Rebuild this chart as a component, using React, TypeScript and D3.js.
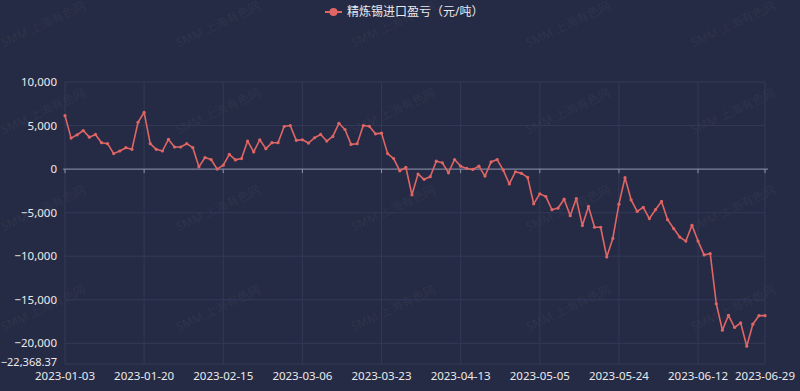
import React from 'react';
import { scaleLinear, scalePoint, line, format } from 'd3';

const WIDTH = 800;
const HEIGHT = 391;
const PLOT = { left: 65, right: 765, top: 82, bottom: 364 };

const COLORS = {
  bg: '#262b45',
  grid: '#323957',
  axis: '#8d93ad',
  text: '#eaeaea',
  line: '#e06666',
  watermark: 'rgba(255,255,255,0.06)',
};

const SERIES_NAME = '精炼锡进口盈亏（元/吨）';

// trading days shown on the category axis
const DATES = [
  '2023-01-03', '2023-01-04', '2023-01-05', '2023-01-06', '2023-01-09', '2023-01-10', '2023-01-11',
  '2023-01-12', '2023-01-13', '2023-01-16', '2023-01-17', '2023-01-18', '2023-01-19', '2023-01-20',
  '2023-01-30', '2023-01-31',
  '2023-02-01', '2023-02-02', '2023-02-03', '2023-02-06', '2023-02-07', '2023-02-08', '2023-02-09',
  '2023-02-10', '2023-02-13', '2023-02-14', '2023-02-15', '2023-02-16', '2023-02-17', '2023-02-20',
  '2023-02-21', '2023-02-22', '2023-02-23', '2023-02-24', '2023-02-27', '2023-02-28',
  '2023-03-01', '2023-03-02', '2023-03-03', '2023-03-06', '2023-03-07', '2023-03-08', '2023-03-09',
  '2023-03-10', '2023-03-13', '2023-03-14', '2023-03-15', '2023-03-16', '2023-03-17', '2023-03-20',
  '2023-03-21', '2023-03-22', '2023-03-23', '2023-03-24', '2023-03-27', '2023-03-28', '2023-03-29',
  '2023-03-30', '2023-03-31',
  '2023-04-03', '2023-04-04', '2023-04-07', '2023-04-10', '2023-04-11', '2023-04-12', '2023-04-13',
  '2023-04-14', '2023-04-17', '2023-04-18', '2023-04-19', '2023-04-20', '2023-04-21', '2023-04-24',
  '2023-04-25', '2023-04-26', '2023-04-27', '2023-04-28',
  '2023-05-04', '2023-05-05', '2023-05-08', '2023-05-09', '2023-05-10', '2023-05-11', '2023-05-12',
  '2023-05-15', '2023-05-16', '2023-05-17', '2023-05-18', '2023-05-19', '2023-05-22', '2023-05-23',
  '2023-05-24', '2023-05-25', '2023-05-26', '2023-05-29', '2023-05-30', '2023-05-31',
  '2023-06-01', '2023-06-02', '2023-06-05', '2023-06-06', '2023-06-07', '2023-06-08', '2023-06-09',
  '2023-06-12', '2023-06-13', '2023-06-14', '2023-06-15', '2023-06-16', '2023-06-19', '2023-06-20',
  '2023-06-21', '2023-06-26', '2023-06-27', '2023-06-28', '2023-06-29',
];

// import profit/loss, yuan per tonne
const PROFIT = [
  6140, 3560, 3940, 4430, 3670, 3980, 3030, 2920, 1780, 2080, 2460, 2270, 5380, 6520,
  2920, 2270, 2080, 3410, 2540, 2540, 2920, 2460, 260, 1330, 1100, 0, 450, 1700,
  1060, 1210, 3220, 1970, 3370, 2350, 3030, 3030, 4890, 5000, 3300, 3370, 2990, 3600,
  3980, 3220, 3750, 5260, 4550, 2840, 2920, 5000, 4920, 4050, 4130, 1780, 1210, -190,
  190, -2950, -570, -1170, -870, 910, 720, -420, 1100, 340, 80, -40, 340, -800,
  830, 1100, -110, -1700, -300, -490, -950, -3980, -2840, -3150, -4660, -4470, -3450, -5340,
  -3370, -6480, -4280, -6670, -6670, -10080, -7950, -4020, -980, -3520, -4850, -4390, -5680, -4660,
  -3710, -5800, -6820, -7800, -8260, -6440, -8260, -9850, -9700, -15450, -18490, -16780, -18180, -17650,
  -20330, -17800, -16820, -16820,
];

const X_LABELS = [
  '2023-01-03', '2023-01-20', '2023-02-15', '2023-03-06', '2023-03-23',
  '2023-04-13', '2023-05-05', '2023-05-24', '2023-06-12', '2023-06-29',
];
const Y_TICKS = [10000, 5000, 0, -5000, -10000, -15000, -20000];
const Y_MIN = -22368.37;
const Y_MAX = 10000;

const WATERMARK = 'SMM 上海有色网';
const WM_X = [45, 220, 395, 570, 735];
const WM_Y = [28, 115, 212, 312];

const FONT = '"Noto Sans", "Noto Sans CJK SC", sans-serif';
const TICK_FS = 11.5;

export default function App() {
  const x = scalePoint<string>().domain(DATES).range([PLOT.left, PLOT.right]);
  const y = scaleLinear().domain([Y_MIN, Y_MAX]).range([PLOT.bottom, PLOT.top]);
  const fmt = format(',');

  const pts = DATES.map((d, i) => ({ d, v: PROFIT[i] }));
  const path = line<{ d: string; v: number }>()
    .x((p) => x(p.d) as number)
    .y((p) => y(p.v))(pts);

  const y0 = y(0);

  return (
    <div style={{ position: 'absolute', left: 0, top: 0, width: WIDTH, height: HEIGHT }}>
      <svg width={WIDTH} height={HEIGHT} style={{ display: 'block', fontFamily: FONT }}>
        <rect width={WIDTH} height={HEIGHT} fill={COLORS.bg} />

        {/* watermarks */}
        {WM_Y.map((wy, r) =>
          WM_X.map((wx, c) => (
            <text
              key={`wm-${r}-${c}`}
              x={wx}
              y={wy}
              transform={`rotate(-25 ${wx} ${wy})`}
              textAnchor="middle"
              fontSize={12}
              fill={COLORS.watermark}
            >
              {WATERMARK}
            </text>
          ))
        )}

        {/* horizontal grid */}
        {[...Y_TICKS, Y_MIN].map((t) => (
          <line key={`hg-${t}`} x1={PLOT.left} x2={PLOT.right} y1={y(t)} y2={y(t)} stroke={COLORS.grid} strokeWidth={1} />
        ))}
        {/* vertical grid */}
        {X_LABELS.map((d) => (
          <line key={`vg-${d}`} x1={x(d)} x2={x(d)} y1={PLOT.top} y2={PLOT.bottom} stroke={COLORS.grid} strokeWidth={1} />
        ))}

        {/* x axis on zero */}
        <line x1={PLOT.left - 2} x2={PLOT.right + 3} y1={y0} y2={y0} stroke={COLORS.axis} strokeWidth={1} />
        {X_LABELS.map((d) => (
          <line key={`xt-${d}`} x1={x(d)} x2={x(d)} y1={y0} y2={y0 + 4} stroke={COLORS.axis} strokeWidth={1} />
        ))}

        {/* y labels */}
        {Y_TICKS.map((t) => (
          <text key={`yl-${t}`} x={57} y={y(t)} dy="0.35em" textAnchor="end" fontSize={TICK_FS} fill={COLORS.text}>
            {fmt(t)}
          </text>
        ))}
        <text x={57} y={y(Y_MIN) - 2} dy="0.35em" textAnchor="end" fontSize={11} fill={COLORS.text}>
          {format(',.2f')(Y_MIN)}
        </text>

        {/* x labels */}
        {X_LABELS.map((d) => (
          <text key={`xl-${d}`} x={x(d)} y={376} dy="0.35em" textAnchor="middle" fontSize={TICK_FS} fill={COLORS.text}>
            {d}
          </text>
        ))}

        {/* series */}
        <path d={path ?? ''} fill="none" stroke={COLORS.line} strokeWidth={1.6} strokeLinejoin="round" />
        {pts.map((p) => (
          <circle key={`pt-${p.d}`} cx={x(p.d)} cy={y(p.v)} r={1.6} fill={COLORS.line} />
        ))}

        {/* legend */}
        <g transform="translate(325, 12)">
          <line x1={0} x2={17} y1={0} y2={0} stroke={COLORS.line} strokeWidth={2} />
          <circle cx={8.5} cy={0} r={4} fill={COLORS.line} />
          <text x={22} y={0} dy="0.35em" fontSize={12} fill={COLORS.text}>
            {SERIES_NAME}
          </text>
        </g>
      </svg>
    </div>
  );
}
